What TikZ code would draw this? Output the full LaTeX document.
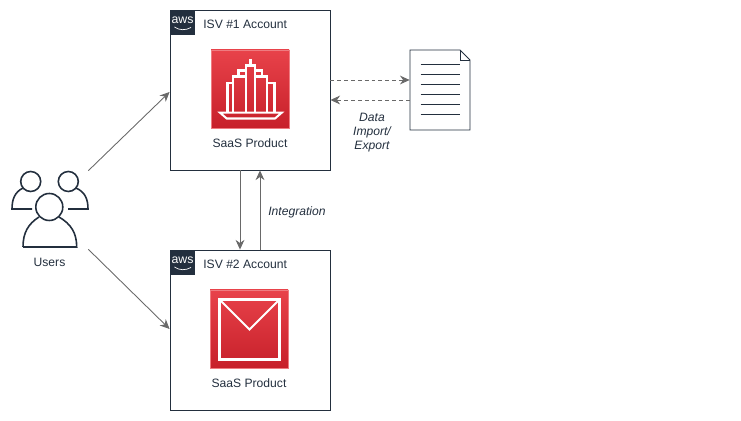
\documentclass[tikz,border=0pt]{standalone}
\usepackage{fontspec}
\setmainfont{Liberation Sans}
\definecolor{awsdark}{RGB}{35,47,62}
\definecolor{awsred}{RGB}{232,66,74}
\definecolor{awsreddark}{RGB}{199,32,42}
\definecolor{arrgray}{RGB}{105,105,105}
\usetikzlibrary{arrows.meta,positioning,calc}

\begin{document}
\begin{tikzpicture}[x=0.2mm,y=-0.2mm,
  isvbox/.style={draw=awsdark,line width=0.5pt,minimum width=3.2cm,minimum height=3.2cm,inner sep=0pt},
  awslogo/.style={fill=awsdark,minimum width=0.5cm,minimum height=0.5cm,inner sep=0pt},
  awstxt/.style={text=white,inner sep=0pt,font=\fontsize{7}{7}\selectfont},
  redsquare/.style={top color=awsred,bottom color=awsreddark,draw=awsred!70!white,line width=0.3pt,
    minimum width=1.56cm,minimum height=1.56cm,inner sep=0pt},
  lbl/.style={font=\fontsize{6.9}{8.4}\selectfont,text=awsdark,inner sep=0pt,align=center},
  lblit/.style={lbl,font=\fontsize{6.9}{8}\selectfont\itshape},
  whiteline/.style={draw=white,line width=1.15pt,line join=miter},
  usrline/.style={draw=awsdark,line width=0.9pt},
  flowarr/.style={-{Stealth[length=5.5pt,width=5pt]},arrgray,line width=0.5pt},
  flowdash/.style={flowarr,dash pattern=on 2.2pt off 1.7pt}
]
  % Users (left)
  \node[minimum width=1.52cm,minimum height=1.56cm,inner sep=0pt] (users) at (50,210) {};
  \draw[usrline] (30.7,181.5) circle (10);
  \draw[usrline] (68.3,181.5) circle (10);
  \draw[usrline] (32,209) -- (12,209) .. controls (12,199) and (15,192) .. (23,188);
  \draw[usrline] (68,209) -- (88,209) .. controls (88,199) and (85,192) .. (76,188);
  \draw[usrline,fill=white] (49.3,207) circle (13.5);
  \draw[usrline] (23,247) -- (76.7,247) .. controls (76.7,233) and (71,224) .. (59,217);
  \draw[usrline] (23,247) .. controls (23,233) and (28,224) .. (39,217);
  \node[lbl] (userslbl) at (49.5,262) {Users};
  % ISV 1 (top)
  \node[isvbox] (isvone) at (250,90) {};
  \node[awslogo] (awsone) at (182.5,22.5) {};
  \node[awstxt] (awsonetxt) at (182.5,20.5) {aws};
  \draw[white,line width=0.4pt] (174.5,27) .. controls (179,30.5) and (186,30.5) .. (191,27.5);
  \node[lbl,anchor=west] (isvonelbl) at (203,24.5) {ISV \#1 Account};
  \node[redsquare] (prodone) at (250,89) {};
  \node[lbl] (saasone) at (250,143) {SaaS Product};
  % building icon
  \draw[whiteline] (250.5,59) -- (250.5,65.5);
  \draw[whiteline] (246,112) -- (246,65.5) -- (255,65.5) -- (255,112);
  \draw[whiteline] (246,70.5) -- (238.5,70.5) -- (238.5,76.5);
  \draw[whiteline] (255,70.5) -- (262,70.5) -- (262,76.5);
  \draw[whiteline] (233.3,112) -- (233.3,76.5) -- (246,76.5);
  \draw[whiteline] (267.3,112) -- (267.3,76.5) -- (255,76.5);
  \draw[whiteline] (227.5,112) -- (227.5,83) -- (233.3,83);
  \draw[whiteline] (274.5,112) -- (274.5,83) -- (267.3,83);
  \draw[whiteline] (220,112.7) -- (281.7,112.7) -- (275,118.5) -- (226.7,118.5) -- cycle;
  % ISV 2 (bottom)
  \node[isvbox] (isvtwo) at (250,330) {};
  \node[awslogo] (awstwo) at (182.5,262.5) {};
  \node[awstxt] (awstwotxt) at (182.5,260.5) {aws};
  \draw[white,line width=0.4pt] (174.5,267) .. controls (179,270.5) and (186,270.5) .. (191,267.5);
  \node[lbl,anchor=west] (isvtwolbl) at (203,264.5) {ISV \#2 Account};
  \node[redsquare] (prodtwo) at (249,329) {};
  \node[lbl] (saastwo) at (249,383) {SaaS Product};
  % envelope icon
  \draw[whiteline] (219.5,299.5) rectangle (279.5,359.5);
  \draw[whiteline] (219.5,299.5) -- (249.5,329.5) -- (279.5,299.5);
  % Document (right)
  \node[minimum width=1.2cm,minimum height=1.6cm,inner sep=0pt] (doc) at (440,90) {};
  \draw[awsdark,line width=0.55pt,fill=white] (410,50) -- (460,50) -- (470,60) -- (470,130) -- (410,130) -- cycle;
  \draw[awsdark,line width=0.55pt] (460,50) -- (460,60) -- (470,60);
  \foreach \ly in {64,74,84,94,104,114}
    \draw[awsdark,line width=0.55pt] (420.5,\ly) -- (460,\ly);
  % Connecting arrows
  \draw[flowarr] (users.north east) -- ([yshift=-0.4mm]isvone.west);
  \draw[flowarr] (users.south east) -- ([yshift=0.2mm]isvtwo.west);
  \draw[flowarr] ([xshift=-2mm]isvone.south) -- ([xshift=-2mm]isvtwo.north);
  \draw[flowarr] ([xshift=2mm]isvtwo.north) -- ([xshift=2mm]isvone.south);
  \draw[flowdash] ([yshift=2mm]isvone.east) -- ([yshift=2mm]doc.west);
  \draw[flowdash] ([yshift=-2mm]doc.west) -- ([yshift=-2mm]isvone.east);
  % Labels on arrows
  \node[lblit] (intlbl) at (297,212) {Integration};
  \node[lblit,text width=1.2cm] (datalbl) at (372,133) {Data\\Import/\\Export};
  \useasboundingbox (0,0) rectangle (741,421);
\end{tikzpicture}
\end{document}
